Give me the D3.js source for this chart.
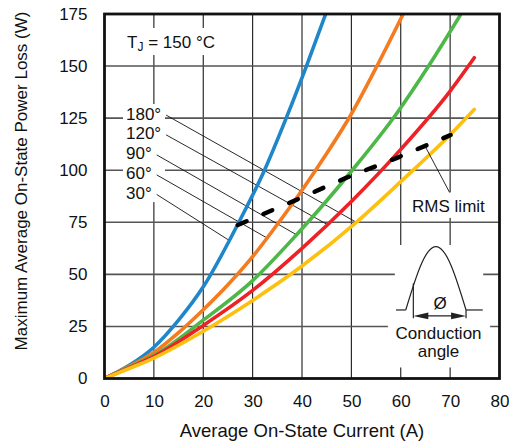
<!DOCTYPE html>
<html><head><meta charset="utf-8">
<script src="https://cdn.jsdelivr.net/npm/d3@7"></script>
<style>
body{margin:0;background:#fff}
svg{display:block}
text{font-family:"Liberation Sans",Arial,sans-serif;fill:#111}
</style>
</head><body>
<svg id="c" width="509" height="445"></svg>
<script>
// ---- data ----
const xTicks=[0,10,20,30,40,50,60,70,80];
const yTicks=[0,25,50,75,100,125,150,175];
const angleNames=["30°","60°","90°","120°","180°"];
const cur30=[0,5,10,15,20,27.2,32.4,36.8,40.9,44.8];
const pow30=[0,6.3,15,28,44,75,100,125,150,175];
const cur60=[0,5,10,15,20,25,30,35,40,45,50,55.4,60.5];
const pow60=[0,5.8,12.5,22,33,45,58.5,74,90.4,108,127,151,175];
const cur90=[0,5,10,20,30,38.9,50,59.1,65.9,72.2];
const pow90=[0,5.5,11,28,47,69,99.5,127,151,175];
const cur120=[0,5,10,20,30,40,50,60,70,74.9];
const pow120=[0,5.2,10.5,25.5,42.3,62.5,85,110,138,154];
const cur180=[0,5,10,20,30,40,51,60,70,74.9];
const pow180=[0,4.8,9.8,22.7,37.5,54,75,94.5,117,129.2];
const rmsCur=[27,38.4,48.7,59.5,70.1];
const rmsPow=[73.7,85.3,96.1,106.2,116.9];
// leader ends (current where each angle's leader meets its curve)
const leaderEndCur=[25.2,32.9,38.9,45.1,51.0];

// ---- styles ----
const colors=["#1f87c9","#f47b20","#4db748","#ec2227","#fdc00f"];
const series=[[cur30,pow30],[cur60,pow60],[cur90,pow90],[cur120,pow120],[cur180,pow180]];

const svg=d3.select("#c");
const x=d3.scaleLinear().domain([0,80]).range([104.5,499.5]);
const y=d3.scaleLinear().domain([0,175]).range([378.5,14]);

// grid
svg.append("g").selectAll("line").data(xTicks.filter(t=>t>0&&t<80)).join("line")
  .attr("x1",d=>x(d)).attr("x2",d=>x(d)).attr("y1",y(0)).attr("y2",y(175))
  .attr("stroke","#1a1a1a").attr("stroke-width",1.1);
svg.append("g").selectAll("line").data(yTicks.filter(t=>t>0&&t<175)).join("line")
  .attr("x1",x(0)).attr("x2",x(80)).attr("y1",d=>y(d)).attr("y2",d=>y(d))
  .attr("stroke","#555").attr("stroke-width",1.6);

// white boxes behind annotations [x0,x1,y0,y1] in data units
const boxes=[[3.1,23.8,168.3,155.3],[3.75,12.25,131.8,84.7],[61.5,78.1,89.4,77.1],[58.8,76.7,64.1,37.2],[57.4,78.1,37.2,5.3]];
svg.append("g").selectAll("rect").data(boxes).join("rect")
  .attr("x",d=>x(d[0])).attr("y",d=>y(d[2])).attr("width",d=>x(d[1])-x(d[0])).attr("height",d=>y(d[3])-y(d[2]))
  .attr("fill","#fff");

// axes
const ax=svg.append("g").attr("transform",`translate(0,${y(0)})`)
  .call(d3.axisBottom(x).tickValues(xTicks).tickSize(0).tickPadding(16.5));
ax.select(".domain").remove();
ax.selectAll("text").attr("font-size",17).attr("font-family","Liberation Sans, Arial, sans-serif").attr("fill","#111");
const ay=svg.append("g").attr("transform",`translate(${x(0)},0)`)
  .call(d3.axisLeft(y).tickValues(yTicks).tickSize(0).tickPadding(17));
ay.select(".domain").remove();
ay.selectAll("text").attr("font-size",17).attr("font-family","Liberation Sans, Arial, sans-serif").attr("fill","#111");

svg.append("text").attr("x",302).attr("y",436.7).attr("text-anchor","middle").attr("font-size",18.5)
  .text("Average On-State Current (A)");
svg.append("text").attr("transform","translate(27,181) rotate(-90)").attr("text-anchor","middle").attr("font-size",17)
  .text("Maximum Average On-State Power Loss (W)");

// T_J label
const tj=svg.append("text").attr("x",x(4.58)).attr("y",y(158.9)).attr("font-size",17);
tj.append("tspan").text("T");
tj.append("tspan").attr("font-size",12).attr("dy",3).text("J");
tj.append("tspan").attr("dy",-3).text(" = 150 °C");

// angle labels and leaders
const labelBase=[86.2,95.6,105.2,114.8,124.3];
const lg=svg.append("g");
angleNames.forEach((nm,i)=>{
  const t=lg.append("text").attr("x",x(4.35)).attr("y",y(labelBase[i])).attr("font-size",17).text(nm);
  const w=t.node().getComputedTextLength();
  const sx=x(4.35)+w+5, sy=y(labelBase[i])-4.5;
  const interp=d3.scaleLinear().domain(series[i][0]).range(series[i][1]);
  const ec=leaderEndCur[i];
  lg.append("line").attr("x1",sx).attr("y1",sy).attr("x2",x(ec)).attr("y2",y(interp(ec)))
    .attr("stroke","#111").attr("stroke-width",0.9);
});

// curves
svg.append("clipPath").attr("id","pc").append("rect")
  .attr("x",x(0)).attr("y",y(175)).attr("width",x(80)-x(0)).attr("height",y(0)-y(175));
const line=d3.line().x(d=>x(d[0])).y(d=>y(d[1])).curve(d3.curveMonotoneX);
svg.append("g").attr("clip-path","url(#pc)").selectAll("path").data(series).join("path")
  .attr("d",s=>line(s[0].map((c,j)=>[c,s[1][j]])))
  .attr("fill","none").attr("stroke",(d,i)=>colors[i]).attr("stroke-width",3.6).attr("stroke-linecap","round");

// RMS limit
svg.append("path").attr("d",d3.line().x(d=>x(d[0])).y(d=>y(d[1]))(rmsCur.map((c,j)=>[c,rmsPow[j]])))
  .attr("fill","none").attr("stroke","#000").attr("stroke-width",4.5)
  .attr("stroke-dasharray","9.5,18.4").attr("stroke-linecap","round");
svg.append("line").attr("x1",x(65.0)).attr("y1",y(111.2)).attr("x2",x(69.9)).attr("y2",y(89.3))
  .attr("stroke","#111").attr("stroke-width",0.9);
svg.append("text").attr("x",x(62.3)).attr("y",y(80.1)).attr("font-size",17).text("RMS limit");

// conduction angle inset
const px0=x(62.55), py0=y(32.9);
const ig=svg.append("g").attr("transform",`translate(${px0},${py0})`);
const st="#222";
const pw=60.3, ph=63.3, l0=-7.6;
const p=d3.path();
const c1=0.512286623256592433, c2=1.002313685767898599;
const k1=c1/(Math.PI/2), k2=c2/(Math.PI/2);
p.moveTo(l0,0);
p.bezierCurveTo(l0+pw/2*k1,-ph*c1, l0+pw/2*k2,-ph, l0+pw/2,-ph);
p.bezierCurveTo(l0+pw-pw/2*k2,-ph, l0+pw-pw/2*k1,-ph*c1, l0+pw,0);
ig.append("path").attr("d",p.toString()).attr("fill","none").attr("stroke",st).attr("stroke-width",1.2);
ig.append("line").attr("x1",-17.3).attr("x2",l0).attr("y1",0).attr("y2",0).attr("stroke",st).attr("stroke-width",1.2);
ig.append("line").attr("x1",l0+pw).attr("x2",69.4).attr("y1",0).attr("y2",0).attr("stroke",st).attr("stroke-width",1.2);
ig.append("line").attr("x1",0).attr("x2",0).attr("y1",-26.7).attr("y2",8.3).attr("stroke",st).attr("stroke-width",1.2);
ig.append("line").attr("x1",l0+pw).attr("x2",l0+pw).attr("y1",0).attr("y2",8.3).attr("stroke",st).attr("stroke-width",1.2);
ig.append("line").attr("x1",10).attr("x2",l0+pw-10).attr("y1",6).attr("y2",6).attr("stroke",st).attr("stroke-width",1.2);
ig.append("path").attr("d",`M0,6L15,2.6L15,9.4Z`).attr("fill",st);
ig.append("path").attr("d",`M${l0+pw},6L${l0+pw-15},2.6L${l0+pw-15},9.4Z`).attr("fill",st);
ig.append("text").attr("x",26.7).attr("y",-1).attr("text-anchor","middle").attr("font-size",17).text("Ø");
ig.append("text").attr("x",25.2).attr("y",29.3).attr("text-anchor","middle").attr("font-size",17).text("Conduction");
ig.append("text").attr("x",25.2).attr("y",47).attr("text-anchor","middle").attr("font-size",17).text("angle");

// frame
svg.append("rect").attr("x",x(0)).attr("y",y(175)).attr("width",x(80)-x(0)).attr("height",y(0)-y(175))
  .attr("fill","none").attr("stroke","#111").attr("stroke-width",2.8);
</script>
</body></html>
